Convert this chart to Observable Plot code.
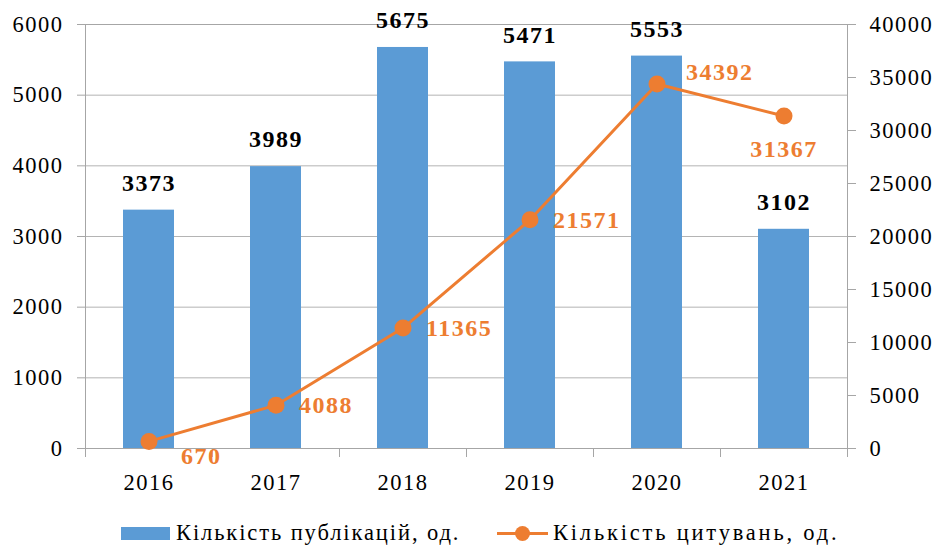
<!DOCTYPE html>
<html><head><meta charset="utf-8">
<script src="https://cdn.jsdelivr.net/npm/d3@7"></script>
<script src="https://cdn.jsdelivr.net/npm/@observablehq/plot@0.6"></script>
<style>
body{margin:0;background:#fff;font-family:"Liberation Serif","Times New Roman",serif;}
#legend{position:relative;width:940px;height:43px;font-size:22.5px;letter-spacing:1.9px;color:#000;}
.item{position:absolute;top:15px;display:flex;align-items:center;height:26px;}
.item2{letter-spacing:2.8px;}
.sw{display:inline-block;width:49px;height:13px;background:#5B9BD5;margin-right:6px;}
.ln{position:relative;display:inline-block;width:51px;height:3px;background:#ED7D31;margin-right:5px;}
.ln::after{content:"";position:absolute;left:18px;top:-6px;width:15px;height:15px;border-radius:50%;background:#ED7D31;}
</style></head><body>
<div id="chart"></div>
<div id="legend"></div>
<script>
const years = ["2016", "2017", "2018", "2019", "2020", "2021"];
const publications = [3373, 3989, 5675, 5471, 5553, 3102];
const citations = [670, 4088, 11365, 21571, 34392, 31367];
const leftTicks = [0, 1000, 2000, 3000, 4000, 5000, 6000];
const rightTicks = [0, 5000, 10000, 15000, 20000, 25000, 30000, 35000, 40000];
const seriesNames = ["Кількість публікацій, од.", "Кількість цитувань, од."];

const leftMax = 6000, rightMax = 40000;
const ratio = leftMax / rightMax;
const data = years.map((year, i) => ({year, i, pub: publications[i], cit: citations[i], citY: citations[i] * ratio}));

const BLUE = "#5B9BD5", ORANGE = "#ED7D31", GRAY = "#a6a6a6";
const LBL = 24;

const chart = Plot.plot({
  width: 940, height: 505,
  marginLeft: 85, marginRight: 93, marginTop: 24, marginBottom: 57,
  style: {fontFamily: "Liberation Serif, Times New Roman, serif", fontSize: "22.5px", letterSpacing: "1.5px", color: "#000", background: "#fff"},
  x: {type: "band", domain: years, paddingInner: 0.6, paddingOuter: 0.3, label: null},
  y: {domain: [0, leftMax], label: null},
  marks: [
    Plot.gridY(leftTicks, {stroke: "#b4b4b4", strokeOpacity: 1}),
    Plot.frame({stroke: GRAY}),
    Plot.barY(data, {x: "year", y: "pub", fill: BLUE}),
    Plot.ruleX(years, {x: d => d, dx: -63.5, y1: 0, y2: 0, insetBottom: -9, stroke: GRAY}),
    Plot.ruleX(years.slice(-1), {x: d => d, dx: 63.5, y1: 0, y2: 0, insetBottom: -9, stroke: GRAY}),
    Plot.axisY(leftTicks, {anchor: "left", tickSize: 8, tickPadding: 14, stroke: GRAY, fill: "#000", label: null, tickFormat: d => String(d)}),
    Plot.axisY(rightTicks.map(v => v * ratio), {anchor: "right", tickSize: 8, tickPadding: 14, stroke: GRAY, fill: "#000", label: null, tickFormat: d => String(Math.round(d / ratio))}),
    Plot.axisX({tickSize: 0, tickPadding: 26, fill: "#000", label: null}),
    Plot.line(data, {x: "year", y: "citY", stroke: ORANGE, strokeWidth: 3}),
    Plot.dot(data, {x: "year", y: "citY", r: 8.5, fill: ORANGE}),
    Plot.text(data, {x: "year", y: "pub", text: d => String(d.pub), dy: -27, fontSize: LBL, fontWeight: "bold", fill: "#000"}),
    Plot.text(data.filter(d => d.i >= 1 && d.i <= 3), {x: "year", y: "citY", text: d => String(d.cit), dx: 23, textAnchor: "start", fontSize: LBL, fontWeight: "bold", fill: ORANGE}),
    Plot.text(data.filter(d => d.i === 0), {x: "year", y: "citY", text: d => String(d.cit), dx: 32, dy: 15, textAnchor: "start", fontSize: LBL, fontWeight: "bold", fill: ORANGE}),
    Plot.text(data.filter(d => d.i === 4), {x: "year", y: "citY", text: d => String(d.cit), dx: 29, dy: -12, textAnchor: "start", fontSize: LBL, fontWeight: "bold", fill: ORANGE}),
    Plot.text(data.filter(d => d.i === 5), {x: "year", y: "citY", text: d => String(d.cit), dy: 33, fontSize: LBL, fontWeight: "bold", fill: ORANGE})
  ]
});
document.getElementById("chart").append(chart);

const legend = document.getElementById("legend");
legend.innerHTML =
  `<div class="item" style="left:121px"><span class="sw"></span><span>${seriesNames[0]}</span></div>` +
  `<div class="item item2" style="left:497px"><span class="ln"></span><span>${seriesNames[1]}</span></div>`;
</script>
</body></html>
